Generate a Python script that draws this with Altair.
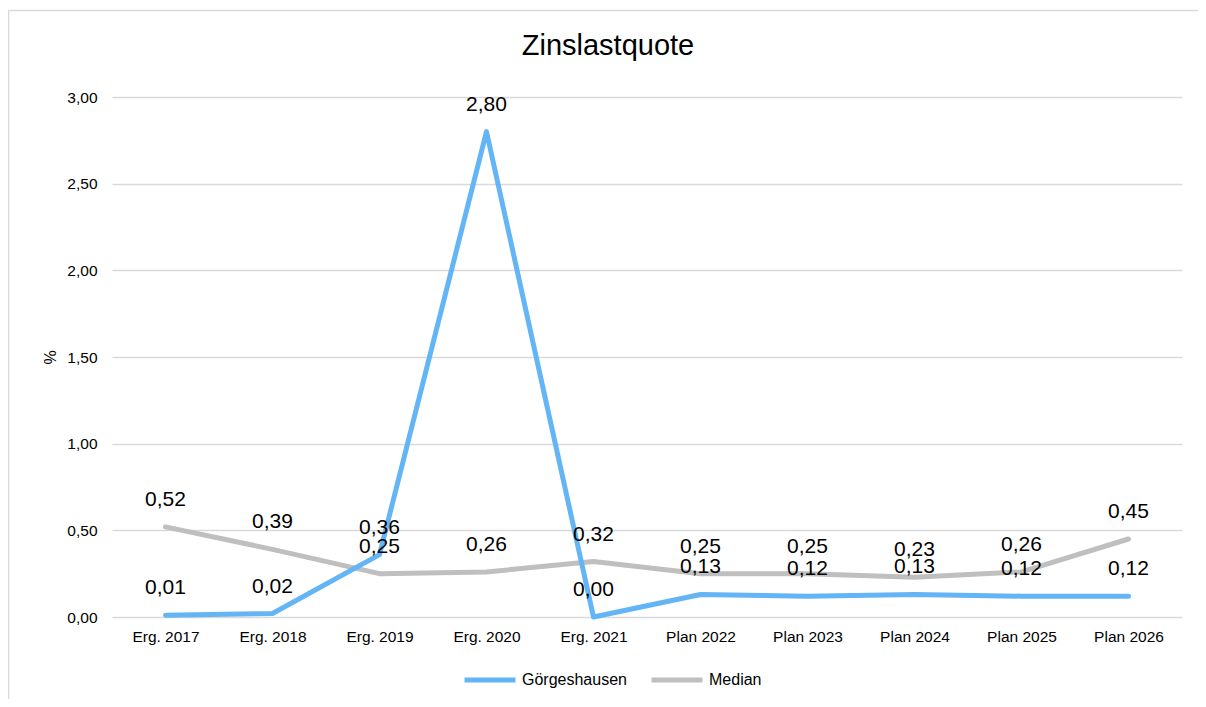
import altair as alt
import pandas as pd

categories = ["Erg. 2017", "Erg. 2018", "Erg. 2019", "Erg. 2020", "Erg. 2021",
              "Plan 2022", "Plan 2023", "Plan 2024", "Plan 2025", "Plan 2026"]
goergeshausen = [0.01, 0.02, 0.36, 2.80, 0.00, 0.13, 0.12, 0.13, 0.12, 0.12]
median = [0.52, 0.39, 0.25, 0.26, 0.32, 0.25, 0.25, 0.23, 0.26, 0.45]
series_names = ["Görgeshausen", "Median"]
series_colors = ["#63B5F5", "#BFBFBF"]
y_ticks = [0, 0.5, 1.0, 1.5, 2.0, 2.5, 3.0]

rows = []
for i, c in enumerate(categories):
    rows.append({"Kategorie": c, "Reihe": series_names[0], "Wert": goergeshausen[i]})
    rows.append({"Kategorie": c, "Reihe": series_names[1], "Wert": median[i]})
df = pd.DataFrame(rows)

FONT = "Liberation Sans"

x_enc = alt.X("Kategorie:N", sort=categories, scale=alt.Scale(padding=0.5),
              axis=alt.Axis(title=None, labelAngle=0, ticks=False, domain=False,
                            labelPadding=12, labelFontSize=15.5, grid=False))
y_enc = alt.Y("Wert:Q", scale=alt.Scale(domain=[0, 3]),
              axis=alt.Axis(title="%", values=y_ticks, ticks=False, domain=False,
                            labelPadding=15, labelFontSize=15.5,
                            labelExpr="replace(format(datum.value, '.2f'), '.', ',')",
                            gridColor="#D9D9D9", gridWidth=1.3,
                            titleFontSize=16, titleFontWeight="normal",
                            titlePadding=8))
color_enc = alt.Color("Reihe:N", scale=alt.Scale(domain=series_names, range=series_colors),
                      legend=alt.Legend(title=None, orient="none", direction="horizontal",
                                        legendX=350, legendY=555,
                                        symbolType="stroke", symbolSize=2601,
                                        symbolStrokeWidth=5, labelFontSize=16,
                                        labelOffset=4, columnPadding=14, padding=0))

base = alt.Chart(df)

median_line = base.transform_filter(alt.datum.Reihe == "Median").mark_line(
    strokeWidth=5, strokeCap="round", strokeJoin="round").encode(x=x_enc, y=y_enc, color=color_enc)
blue_line = base.transform_filter(alt.datum.Reihe == "Görgeshausen").mark_line(
    strokeWidth=5, strokeCap="round", strokeJoin="round").encode(x=x_enc, y=y_enc, color=color_enc)

labels = base.transform_calculate(
    label="replace(format(datum.Wert, '.2f'), '.', ',')"
).mark_text(dy=-21, baseline="alphabetic", fontSize=21, color="#000000", font=FONT).encode(
    x=alt.X("Kategorie:N", sort=categories), y="Wert:Q", text="label:N")

frame_df = pd.DataFrame({"f": [0]})
frame_top = alt.Chart(frame_df).mark_rule(stroke="#D9D9D9", strokeWidth=1.5).encode(
    x=alt.value(-103.5), x2=alt.value(1100), y=alt.value(-86.5))
frame_left = alt.Chart(frame_df).mark_rule(stroke="#D9D9D9", strokeWidth=1.5).encode(
    x=alt.value(-103.5), y=alt.value(-86.5), y2=alt.value(700))

chart = alt.layer(frame_top, frame_left, median_line, blue_line, labels).properties(
    width=1070, height=520,
    title=alt.TitleParams("Zinslastquote", fontSize=29, fontWeight="normal",
                          color="#000000", anchor="middle", dx=-39, offset=-51, font=FONT),
    autosize=alt.AutoSizeParams(type="none"),
    padding={"left": 104, "top": 89, "right": 16, "bottom": 82},
).configure(font=FONT).configure_axis(
    labelFont=FONT, titleFont=FONT, labelColor="#000000", titleColor="#000000"
).configure_legend(labelFont=FONT, labelColor="#000000").configure_view(stroke=None)

chart.save("out.html", embed_options={"renderer": "svg", "actions": False})
